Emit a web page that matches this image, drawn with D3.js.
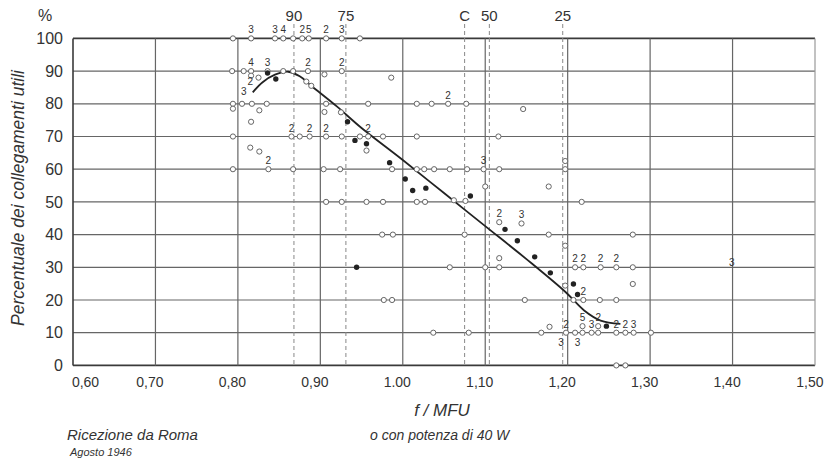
<!DOCTYPE html>
<html>
<head>
<meta charset="utf-8">
<script src="https://cdn.jsdelivr.net/npm/d3@7"></script>
<style>
  body { margin: 0; background: #fff; }
  svg { display: block; }
  text { font-family: "Liberation Sans", Arial, sans-serif; fill: #333; }
</style>
</head>
<body>
<svg id="chart" width="827" height="468"></svg>
<script>
// Axis ticks
const xTickValues = [0.6, 0.7, 0.8, 0.9, 1.0, 1.1, 1.2, 1.3, 1.4, 1.5];
const xTickLabels = ["0,60", "0,70", "0,80", "0,90", "1.00", "1,10", "1,20", "1,30", "1,40", "1,50"];
const yTickValues = [0, 10, 20, 30, 40, 50, 60, 70, 80, 90, 100];

// Percentile reference lines (dashed)
const pctNames = ["90", "75", "C", "50", "25"];
const pctX = [0.868, 0.931, 1.075, 1.105, 1.194];

// Fitted curve
const curveX = [0.818, 0.83, 0.845, 0.861, 0.875, 0.89, 0.92, 0.95, 1.0, 1.05, 1.1, 1.15, 1.198, 1.22, 1.24, 1.264];
const curveY = [83.5, 86.6, 88.9, 89.8, 88.4, 85.3, 79.2, 72.6, 62.8, 52.7, 42.6, 32.5, 22.3, 16.8, 13.7, 12.7];

// Open circles: [f/MFU, percent, count]
const openPts = [
  [0.794,100,""],[0.816,100,"3"],[0.845,100,"3"],[0.855,100,"4"],[0.867,100,""],[0.878,100,"2"],[0.886,100,"5"],[0.907,100,"2"],[0.926,100,"3"],[0.948,100,""],
  [0.793,90,""],[0.807,90,""],[0.816,90,"4"],[0.836,90,"3"],[0.855,90,""],[0.867,90,""],[0.885,90,"2"],[0.926,90,"2"],[0.905,89,""],[0.986,88,""],
  [0.816,88.6,""],[0.825,88,""],[0.883,86.8,""],[0.889,85.5,""],
  [0.794,80,""],[0.805,80,""],[0.817,80,""],[0.835,80,""],[0.907,80,""],[0.958,80,""],[1.017,80,""],[1.035,80,""],[1.055,80,"2"],[1.077,80,""],
  [0.794,78.5,""],[0.826,78,""],[0.905,77.5,""],[0.925,77.4,""],[1.146,78.4,""],[0.816,74.5,""],
  [0.794,70,""],[0.865,70,"2"],[0.875,70,""],[0.887,70,"2"],[0.907,70,"2"],[0.926,70,""],[0.948,70,""],[0.958,70,"2"],[0.976,70,""],[1.017,70,""],[1.116,70,""],
  [0.956,65.7,""],[0.815,66.6,""],[0.826,65.4,""],
  [0.794,60,""],[0.837,60,"2"],[0.867,60,""],[0.904,60,""],[0.924,60,""],[0.987,60,""],[1.017,60,""],[1.026,60,""],[1.038,60,""],[1.057,60,""],[1.078,60,""],[1.098,60,"3"],[1.117,60,""],[1.197,60,""],[1.197,62.5,""],
  [1.062,50.5,""],[1.076,50.3,""],[1.1,54.7,""],[1.177,54.7,""],
  [0.907,50,""],[0.926,50,""],[0.956,50,""],[0.976,50,""],[1.017,50,""],[1.027,50,""],[1.217,50,""],
  [0.975,40,""],[0.988,40,""],[1.075,40,""],[1.177,40,""],[1.279,40,""],
  [1.117,43.8,"2"],[1.144,43.4,"3"],[1.197,36.6,""],[1.117,32.8,""],
  [1.057,30,""],[1.1,30,""],[1.117,30,""],[1.209,30,"2"],[1.219,30,"2"],[1.240,30,"2"],[1.259,30,"2"],[1.279,30,""],
  [1.279,24.9,""],[1.197,24.4,""],
  [0.977,20,""],[0.987,20,""],[1.148,20,""],[1.207,20,""],[1.219,20,"2"],[1.239,20,""],[1.259,20,""],
  [1.037,10,""],[1.08,10,""],[1.168,10,""],[1.178,11.8,""],[1.198,10,"2"],[1.209,10,""],[1.218,10,""],[1.218,12,"5"],[1.229,10,"3"],[1.237,10,""],[1.237,12,"2"],[1.259,10,"2"],[1.27,10,"2"],[1.28,10,"3"],[1.301,10,""],
  [1.259,0,""],[1.27,0,""]
];

// Filled dots: [f/MFU, percent]
const filledPts = [
  [0.836,89.4],[0.846,87.6],[0.933,74.5],[0.942,68.8],[0.956,67.8],[0.984,62],[1.003,57],[1.012,53.5],[1.028,54.2],[1.082,51.8],
  [1.124,41.6],[1.139,38.1],[1.16,33.2],[1.179,28.3],[1.207,24.9],[1.212,21.7],[1.247,12],[0.944,30]
];

// Count figures written beside a circle rather than above it
const countsBelow = [[1.198,10,"3"],[1.218,10,"3"]];
const countsLeft = [[0.817,83,"3"]];
const looseCounts = [[0.815,87,"2"],[1.399,31.7,"3"]];

const svg = d3.select("#chart");
const plotL = 73, plotR = 815, plotT = 38.4, plotB = 365.4;

const x = d3.scaleLinear().domain([0.6, 1.5]).range([plotL, plotR]);
const y = d3.scaleLinear().domain([0, 100]).range([plotB, plotT]);

// Horizontal grid
svg.append("g")
  .selectAll("line").data(yTickValues).join("line")
  .attr("x1", plotL).attr("x2", plotR)
  .attr("y1", d => y(d)).attr("y2", d => y(d))
  .attr("stroke", d => (d === 100 || d === 0) ? "#3a3a3a" : "#666")
  .attr("stroke-width", d => (d === 100 || d === 0) ? 1.8 : 1.2);

// Vertical grid
svg.append("g")
  .selectAll("line").data(xTickValues).join("line")
  .attr("x1", d => x(d)).attr("x2", d => x(d))
  .attr("y1", plotT).attr("y2", plotB)
  .attr("stroke", d => d === 0.6 ? "#3a3a3a" : (d === 1.5 ? "#999" : "#666"))
  .attr("stroke-width", d => d === 0.6 ? 1.6 : 1.2);

// Percentile dashed lines
const pct = svg.append("g");
pct.selectAll("line").data(pctX).join("line")
  .attr("x1", d => x(d)).attr("x2", d => x(d))
  .attr("y1", 24).attr("y2", plotB)
  .attr("stroke", "#888").attr("stroke-width", 1)
  .attr("stroke-dasharray", "4,3");
pct.selectAll("text").data(pctNames).join("text")
  .attr("x", (d, i) => x(pctX[i])).attr("y", 21)
  .attr("text-anchor", "middle").attr("font-size", 15)
  .text(d => d);

// Y axis labels
const yAxis = d3.axisLeft(y).tickValues(yTickValues).tickSize(0).tickPadding(10);
const gy = svg.append("g").attr("transform", `translate(${plotL},0)`).call(yAxis);
gy.select(".domain").remove();
gy.selectAll("text").attr("font-size", 16).style("font-family", "'Liberation Sans', Arial, sans-serif").attr("fill", "#333");

// X axis labels
const xAxis = d3.axisBottom(x).tickValues(xTickValues).tickSize(0).tickPadding(12)
  .tickFormat((d, i) => xTickLabels[i]);
const gx = svg.append("g").attr("transform", `translate(0,${plotB})`).call(xAxis);
gx.select(".domain").remove();
gx.selectAll("text").attr("font-size", 14).style("font-family", "'Liberation Sans', Arial, sans-serif").attr("fill", "#333")
  .attr("dx", d => d === 0.6 ? 12 : (d === 1.5 ? -4 : -6))
  .attr("text-anchor", d => d === 1.5 ? "end" : "middle")
  .attr("x", d => d === 1.5 ? 12 : 0);

// Curve
const line = d3.line().x(d => x(d[0])).y(d => y(d[1])).curve(d3.curveCatmullRom.alpha(0.5));
svg.append("path")
  .datum(curveX.map((v, i) => [v, curveY[i]]))
  .attr("d", line).attr("fill", "none")
  .attr("stroke", "#222").attr("stroke-width", 1.8);

// Open circles
svg.append("g").selectAll("circle").data(openPts).join("circle")
  .attr("cx", d => x(d[0])).attr("cy", d => y(d[1])).attr("r", 2.6)
  .attr("fill", "#fff").attr("stroke", "#666").attr("stroke-width", 1);

// Filled dots
svg.append("g").selectAll("circle").data(filledPts).join("circle")
  .attr("cx", d => x(d[0])).attr("cy", d => y(d[1])).attr("r", 2.7)
  .attr("fill", "#222");

// Counts
const cnt = svg.append("g").attr("font-size", 10).attr("text-anchor", "middle");
cnt.selectAll("text.above").data(openPts.filter(d => d[2] !== "")).join("text")
  .attr("class", "above")
  .attr("x", d => x(d[0])).attr("y", d => y(d[1]) - 5)
  .text(d => d[2]);
cnt.selectAll("text.below").data(countsBelow).join("text")
  .attr("class", "below")
  .attr("x", d => x(d[0]) - 5).attr("y", d => y(d[1]) + 13)
  .text(d => d[2]);
cnt.selectAll("text.left").data(countsLeft).join("text")
  .attr("class", "left")
  .attr("x", d => x(d[0]) - 8).attr("y", d => y(d[1]) + 1)
  .text(d => d[2]);
cnt.selectAll("text.loose").data(looseCounts).join("text")
  .attr("class", "loose")
  .attr("x", d => x(d[0])).attr("y", d => y(d[1]) + 4)
  .text(d => d[2]);

// Titles and notes
svg.append("text").attr("x", 45).attr("y", 21).attr("text-anchor", "middle")
  .attr("font-size", 16).text("%");
svg.append("text")
  .attr("transform", "translate(24,198) rotate(-90)")
  .attr("text-anchor", "middle").attr("font-size", 17.5).attr("font-style", "italic")
  .text("Percentuale dei collegamenti utili");
svg.append("text").attr("x", 442).attr("y", 416).attr("text-anchor", "middle")
  .attr("font-size", 17).attr("font-style", "italic").text("f / MFU");
svg.append("text").attr("x", 67).attr("y", 440)
  .attr("font-size", 15).attr("font-style", "italic").text("Ricezione da Roma");
svg.append("text").attr("x", 70).attr("y", 456)
  .attr("font-size", 11).attr("font-style", "italic").text("Agosto 1946");
svg.append("text").attr("x", 370).attr("y", 440)
  .attr("font-size", 14).attr("font-style", "italic").text("o con potenza di 40 W");
</script>
</body>
</html>
